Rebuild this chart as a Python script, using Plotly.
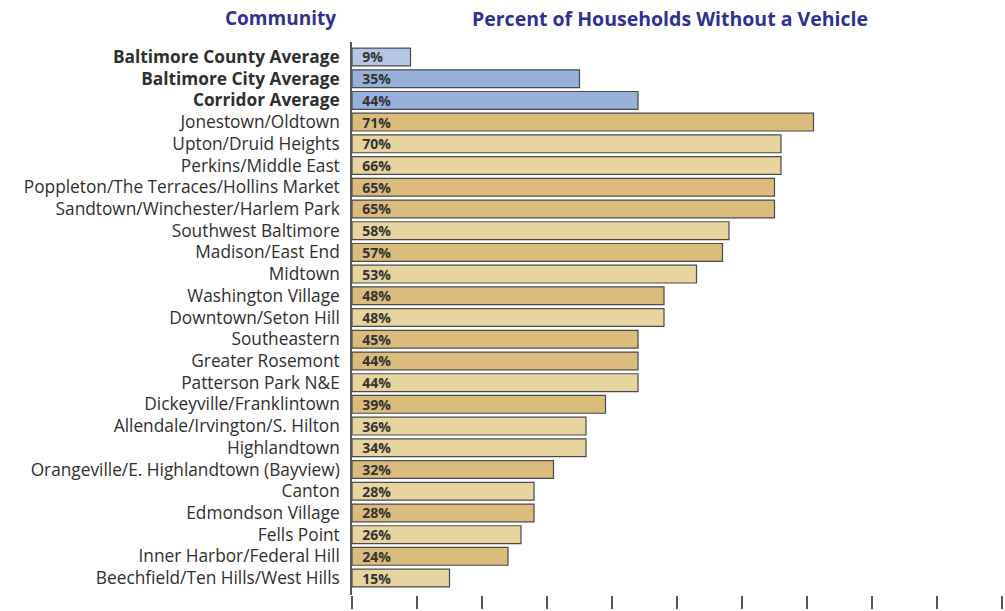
import plotly.graph_objects as go

communities = [
    "Baltimore County Average", "Baltimore City Average", "Corridor Average",
    "Jonestown/Oldtown", "Upton/Druid Heights", "Perkins/Middle East",
    "Poppleton/The Terraces/Hollins Market", "Sandtown/Winchester/Harlem Park",
    "Southwest Baltimore", "Madison/East End", "Midtown", "Washington Village",
    "Downtown/Seton Hill", "Southeastern", "Greater Rosemont", "Patterson Park N&E",
    "Dickeyville/Franklintown", "Allendale/Irvington/S. Hilton", "Highlandtown",
    "Orangeville/E. Highlandtown (Bayview)", "Canton", "Edmondson Village",
    "Fells Point", "Inner Harbor/Federal Hill", "Beechfield/Ten Hills/West Hills",
]
# percentages printed on the bars
pct_label = [9, 35, 44, 71, 70, 66, 65, 65, 58, 57, 53, 48, 48, 45, 44, 44,
             39, 36, 34, 32, 28, 28, 26, 24, 15]
# bar lengths as drawn in the reference (a few differ from their printed label)
bar_length = [9, 35, 44, 71, 66, 66, 65, 65, 58, 57, 53, 48, 48, 44, 44, 44,
              39, 36, 36, 31, 28, 28, 26, 24, 15]
is_average = [True, True, True] + [False] * 22
# shading group of each bar as seen in the reference
group = ["county", "avg", "avg",
         "dark", "light", "light", "dark", "dark", "light", "dark", "light",
         "dark", "light", "dark", "dark", "light", "dark", "light", "light",
         "dark", "light", "dark", "light", "dark", "light"]

palette = {"county": "#b5c7e6", "avg": "#97b1db", "dark": "#dbbc7d", "light": "#e8d49f"}
colors = [palette[g] for g in group]

ticktext = [f"<b>{c}</b>" if a else c for c, a in zip(communities, is_average)]
labels = ["\u00a0\u00a0" + f"{v}%" for v in pct_label]

L, T, PW, PH = 352, 42, 650, 556

fig = go.Figure(go.Bar(
    y=list(range(len(communities))),
    x=bar_length,
    orientation="h",
    marker=dict(color=colors, line=dict(color="#4a4a4a", width=1.2)),
    width=0.82,
    text=labels,
    textposition="inside",
    insidetextanchor="start",
    textangle=0,
    constraintext="none",
    textfont=dict(family="Open Sans", size=14, color="#333333", weight="bold"),
    hoverinfo="skip",
))

fig.update_layout(
    width=1005, height=611,
    margin=dict(l=L, r=1005 - L - PW, t=T, b=611 - T - PH),
    paper_bgcolor="white", plot_bgcolor="white",
    showlegend=False,
    font=dict(family="Open Sans", color="#333333"),
    xaxis=dict(range=[0, 100], dtick=10, tick0=0, showticklabels=False,
               ticks="outside", ticklen=13, tickwidth=1.5, tickcolor="#555555",
               showgrid=False, zeroline=False, showline=False),
    yaxis=dict(range=[24.78, -0.69], tickmode="array",
               tickvals=list(range(len(communities))), ticktext=ticktext,
               tickfont=dict(family="Open Sans", size=17.3, color="#2f2f2f"),
               ticks="", ticklabelstandoff=7,
               showgrid=False, zeroline=False,
               showline=True, linecolor="#555555", linewidth=1.5),
    annotations=[
        dict(text="<b>Community</b>", xref="paper", yref="paper",
             x=(280 - L) / PW, y=1 + (T - 18) / PH, xanchor="center", yanchor="middle",
             showarrow=False, font=dict(family="Open Sans", size=19, color="#2e3192")),
        dict(text="<b>Percent of Households Without a Vehicle</b>", xref="paper", yref="paper",
             x=(670 - L) / PW, y=1 + (T - 18) / PH, xanchor="center", yanchor="middle",
             showarrow=False, font=dict(family="Open Sans", size=19.5, color="#2e3192")),
    ],
)

fig.write_html("out.html", config={"displayModeBar": False},
               post_script="document.body.style.margin='0';")
